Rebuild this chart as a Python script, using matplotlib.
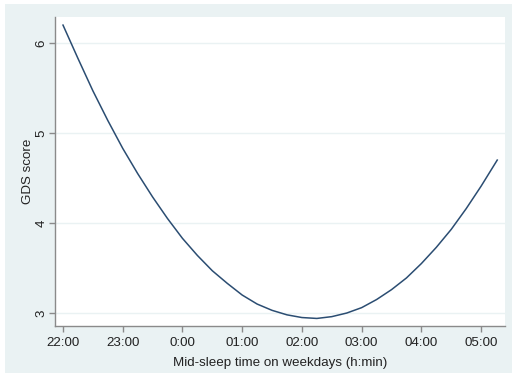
import matplotlib.pyplot as plt
from matplotlib.patches import Rectangle

# mid-sleep time (hours after 22:00) and GDS score, every 15 min
hours = [0, 0.25, 0.5, 0.75, 1, 1.25, 1.5, 1.75, 2, 2.25, 2.5, 2.75, 3, 3.25, 3.5, 3.75,
         4, 4.25, 4.5, 4.75, 5, 5.25, 5.5, 5.75, 6, 6.25, 6.5, 6.75, 7, 7.27]
gds = [6.20, 5.83, 5.47, 5.14, 4.83, 4.55, 4.29, 4.05, 3.83, 3.64, 3.47, 3.33, 3.20, 3.10,
       3.03, 2.98, 2.95, 2.94, 2.96, 3.00, 3.06, 3.15, 3.26, 3.39, 3.55, 3.73, 3.93, 4.16,
       4.41, 4.70]

xtick_pos = [0, 1, 2, 3, 4, 5, 6, 7]
xtick_labels = ['22:00', '23:00', '0:00', '01:00', '02:00', '03:00', '04:00', '05:00']
ytick_pos = [3, 4, 5, 6]

plt.rcParams['font.family'] = ['Liberation Sans', 'DejaVu Sans']
bg = '#eaf2f3'
gray = '#8a8a8a'

fig = plt.figure(figsize=(5.12, 3.76), dpi=100, facecolor='white')
fig.patches.append(Rectangle((5 / 512, 3 / 376), 1, 369 / 376, transform=fig.transFigure,
                             facecolor=bg, edgecolor='none', zorder=-5))
ax = fig.add_axes([55 / 512, 50 / 376, 450 / 512, 309 / 376])
ax.set_facecolor('white')

ax.plot(hours, gds, color='#2b4d72', linewidth=1.1, solid_joinstyle='round')

ax.set_xlim(-0.134, 7.40)
ax.set_ylim(2.856, 6.29)
ax.set_xticks(xtick_pos)
ax.set_xticklabels(xtick_labels)
ax.set_yticks(ytick_pos)
ax.set_yticklabels([str(v) for v in ytick_pos], rotation=90, va='center')
ax.grid(axis='y', color=bg, linewidth=1)
ax.set_axisbelow(True)

for side in ['top', 'right']:
    ax.spines[side].set_visible(False)
for side in ['left', 'bottom']:
    ax.spines[side].set_color(gray)
    ax.spines[side].set_linewidth(1)
ax.tick_params(colors=gray, labelcolor='#222222', length=4.5, width=1, labelsize=9.6)
ax.tick_params(axis='y', pad=1)

ax.set_xlabel('Mid-sleep time on weekdays (h:min)', fontsize=9.6, color='#222222', labelpad=5.5)
ax.set_ylabel('GDS score', fontsize=9.6, color='#222222', va='center')
ax.yaxis.set_label_coords(-0.06, 0.5)

fig.savefig('out.png', dpi=100, facecolor='white')
